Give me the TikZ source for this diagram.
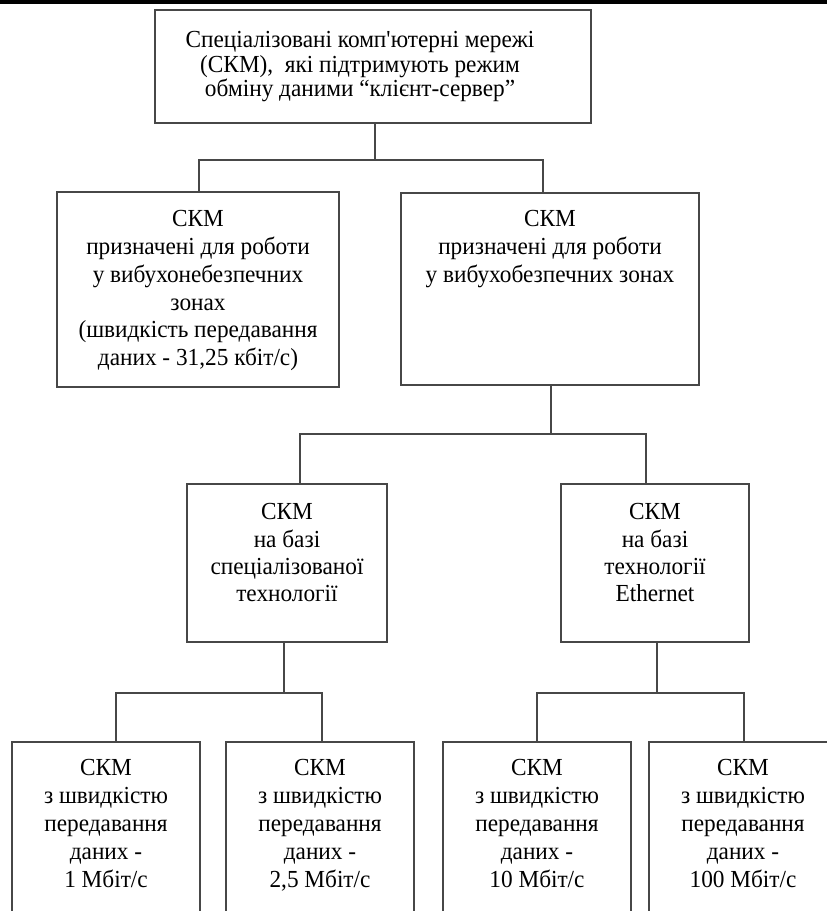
\documentclass[tikz,border=0pt]{standalone}
\usepackage{fontspec}
\setmainfont[FakeStretch=0.95]{Liberation Serif}
\begin{document}
\begin{tikzpicture}[x=1pt,y=-1pt,
  box/.style={draw=black!72, line width=1.8pt, rectangle, inner sep=0pt},
  txt/.style={align=center, inner sep=0pt, anchor=north, font=\fontsize{24.5}{27.7}\selectfont},
  link/.style={draw=black!72, line width=1.8pt}]
\useasboundingbox (0,0) rectangle (827,911);
\clip (0,0) rectangle (827,911);
\fill[black] (0,0) rectangle (827,4);
% boxes
\node[box, minimum width=436pt, minimum height=113pt] (top) at (373,66.5) {};
\node[box, minimum width=282pt, minimum height=195pt] (l2a) at (198,289.5) {};
\node[box, minimum width=298pt, minimum height=192pt] (l2b) at (550,289) {};
\node[box, minimum width=200pt, minimum height=158pt] (l3a) at (287,563) {};
\node[box, minimum width=188pt, minimum height=158pt] (l3b) at (655,563) {};
\node[box, minimum width=188pt, minimum height=200pt] (l4a) at (106,842) {};
\node[box, minimum width=188pt, minimum height=200pt] (l4b) at (320,842) {};
\node[box, minimum width=188pt, minimum height=200pt] (l4c) at (537,842) {};
\node[box, minimum width=188pt, minimum height=200pt] (l4d) at (743,842) {};
% texts
\node[txt, font=\fontsize{24.5}{24.6}\selectfont] (topt) at (360,31) {Спеціалізовані комп\textquotesingle ютерні мережі\\(СКМ),\ \ які підтримують режим\\обміну даними “клієнт-сервер”};
\node[txt] (l2at) at (198,210.5) {СКМ\\призначені для роботи\\у вибухонебезпечних\\зонах\\(швидкість передавання\\даних - 31,25 кбіт/с)};
\node[txt] (l2bt) at (550,210.5) {СКМ\\призначені для роботи\\у вибухобезпечних зонах};
\node[txt, font=\fontsize{24.5}{27.3}\selectfont] (l3at) at (287,503.5) {СКМ\\на базі\\спеціалізованої\\технології};
\node[txt, font=\fontsize{24.5}{27.3}\selectfont] (l3bt) at (655,503.5) {СКМ\\на базі\\технології\\Ethernet};
\node[txt, font=\fontsize{24.5}{28}\selectfont] (l4at) at (106,759.5) {СКМ\\з швидкістю\\передавання\\даних -\\1 Мбіт/с};
\node[txt, font=\fontsize{24.5}{28}\selectfont] (l4bt) at (320,759.5) {СКМ\\з швидкістю\\передавання\\даних -\\2,5 Мбіт/с};
\node[txt, font=\fontsize{24.5}{28}\selectfont] (l4ct) at (537,759.5) {СКМ\\з швидкістю\\передавання\\даних -\\10 Мбіт/с};
\node[txt, font=\fontsize{24.5}{28}\selectfont] (l4dt) at (743,759.5) {СКМ\\з швидкістю\\передавання\\даних -\\100 Мбіт/с};
% connectors
\draw[link] ([xshift=2pt]top.south) -- ++(0,36) coordinate (j1);
\draw[link] ([xshift=1pt]l2a.north) -- ([xshift=1pt]l2a.north |- j1) -- ([xshift=-7pt]l2b.north |- j1) -- ([xshift=-7pt]l2b.north);
\draw[link] ([xshift=1pt]l2b.south) -- ++(0,48) coordinate (j2);
\draw[link] ([xshift=13pt]l3a.north) -- ([xshift=13pt]l3a.north |- j2) -- ([xshift=-9pt]l3b.north |- j2) -- ([xshift=-9pt]l3b.north);
\draw[link] ([xshift=-3pt]l3a.south) -- ++(0,50) coordinate (j3);
\draw[link] ([xshift=10pt]l4a.north) -- ([xshift=10pt]l4a.north |- j3) -- ([xshift=2pt]l4b.north |- j3) -- ([xshift=2pt]l4b.north);
\draw[link] ([xshift=2pt]l3b.south) -- ++(0,50) coordinate (j4);
\draw[link] (l4c.north) -- (l4c.north |- j4) -- ([xshift=1pt]l4d.north |- j4) -- ([xshift=1pt]l4d.north);
\end{tikzpicture}
\end{document}
